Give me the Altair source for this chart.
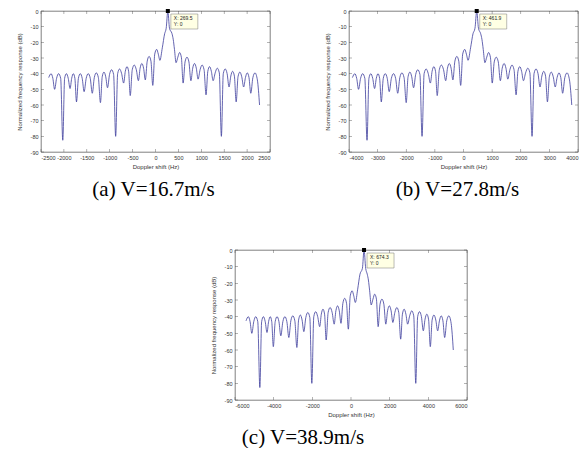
import altair as alt
import pandas as pd

# Normalized frequency response (dB) (same shape in all panels):
# lobe peaks, their flanks and the nulls between them
response_db = [
    -42.5, -40, -43, -50, -43, -40, -43, -82.5, -43, -40,
    -43, -49.5, -43, -40, -43, -58, -43, -40, -43, -51.5,
    -43, -40, -43, -52.5, -42.5, -39.5, -42.5, -58.5, -42, -39,
    -42, -49, -40.5, -37.5, -40.5, -80, -40, -37, -40, -46,
    -38.5, -35.5, -38.5, -54, -37.5, -34.5, -37.5, -44.5, -36.5, -33.5,
    -36.5, -44, -32, -29, -32, -47.5, -27.5, -24.5, -27.5, -31.5,
    -23.5, -14.5, -11, 0, -11, -14.5, -18, -24.5, -33, -29.5,
    -26.5, -29.5, -46, -32.5, -29.5, -32.5, -44.5, -36.5, -33.5, -36.5,
    -43.5, -37.5, -34.5, -37.5, -53.5, -38.5, -35.5, -38.5, -44.5, -39.5,
    -36.5, -39.5, -80, -40, -37, -40, -48.5, -41.5, -38.5, -41.5,
    -58, -42, -39, -42, -48.5, -42.5, -39.5, -42.5, -52.5, -42.5,
    -39.5, -44, -60,
]

# Doppler shift (Hz) of those points, panel (a) V=16.7 m/s
shift_a = [
    -2331.5, -2279.9, -2241.3, -2202.7, -2159.7, -2116.8, -2070.4, -2024.5, -1984.5, -1945.0,
    -1905.1, -1865.6, -1830.0, -1794.8, -1760.0, -1725.2, -1683.6, -1642.3, -1600.3, -1558.6,
    -1513.5, -1468.4, -1424.2, -1380.4, -1336.2, -1292.4, -1247.3, -1202.2, -1163.6, -1124.9,
    -1086.3, -1047.7, -1003.4, -959.6, -914.6, -869.9, -826.5, -783.6, -739.4, -695.6,
    -659.1, -622.6, -586.9, -551.7, -507.5, -463.7, -418.6, -373.5, -335.8, -298.4,
    -260.2, -222.4, -180.8, -139.5, -99.2, -59.3, -16.7, 25.8, 61.0, 96.2,
    148.6, 199.7, 233.5, 269.5, 305.5, 360.7, 386.4, 414.3, 448.7, 487.3,
    526.0, 564.6, 603.3, 644.9, 687.0, 729.9, 772.9, 812.4, 852.3, 890.9,
    929.6, 973.4, 1017.6, 1060.5, 1103.5, 1142.1, 1180.8, 1219.4, 1258.0, 1303.1,
    1348.2, 1393.3, 1438.4, 1480.0, 1522.1, 1563.8, 1605.8, 1644.5, 1683.1, 1722.2,
    1761.3, 1801.6, 1842.0, 1883.2, 1924.9, 1963.9, 2003.0, 2041.6, 2080.3, 2126.2,
    2172.6, 2224.1, 2271.8,
]

# panel (b) V=27.8 m/s
shift_b = [
    -3881.3, -3795.6, -3731.2, -3666.9, -3595.4, -3523.9, -3446.7, -3370.3, -3303.8, -3238.0,
    -3171.6, -3105.8, -3046.5, -2987.8, -2929.9, -2872.1, -2802.7, -2734.1, -2664.0, -2594.7,
    -2519.7, -2444.6, -2371.0, -2298.1, -2224.4, -2151.5, -2076.5, -2001.4, -1937.1, -1872.8,
    -1808.4, -1744.1, -1670.5, -1597.6, -1522.5, -1448.2, -1376.0, -1304.5, -1230.9, -1158.0,
    -1097.2, -1036.5, -977.1, -918.5, -844.9, -772.0, -696.9, -621.9, -559.0, -496.8,
    -433.2, -370.3, -300.9, -232.3, -165.1, -98.6, -27.9, 42.9, 101.5, 160.1,
    247.3, 332.4, 400.9, 461.9, 522.9, 600.4, 643.3, 689.8, 747.0, 811.3,
    875.6, 940.0, 1004.3, 1073.6, 1143.7, 1215.2, 1286.6, 1352.4, 1418.9, 1483.2,
    1547.5, 1620.4, 1694.1, 1765.5, 1837.0, 1901.4, 1965.7, 2030.0, 2094.4, 2169.4,
    2244.5, 2319.5, 2394.6, 2463.9, 2533.9, 2603.3, 2673.3, 2737.7, 2802.0, 2867.0,
    2932.1, 2999.3, 3066.5, 3135.1, 3204.4, 3269.5, 3334.5, 3398.9, 3463.2, 3539.7,
    3616.9, 3702.6, 3782.0,
]

# panel (c) V=38.9 m/s
shift_c = [
    -5430, -5310, -5220, -5130, -5030, -4930, -4822, -4715, -4622, -4530,
    -4437, -4345, -4262, -4180, -4099, -4018, -3921, -3825, -3727, -3630,
    -3525, -3420, -3317, -3215, -3112, -3010, -2905, -2800, -2710, -2620,
    -2530, -2440, -2337, -2235, -2130, -2026, -1925, -1825, -1722, -1620,
    -1535, -1450, -1367, -1285, -1182, -1080, -975, -870, -782, -695,
    -606, -518, -421, -325, -231, -138, -39, 60, 142, 224,
    346, 465, 590, 674.3, 760, 840, 900, 965, 1045, 1135,
    1225, 1315, 1405, 1502, 1600, 1700, 1800, 1892, 1985, 2075,
    2165, 2267, 2370, 2470, 2570, 2660, 2750, 2840, 2930, 3035,
    3140, 3245, 3350, 3447, 3545, 3642, 3740, 3830, 3920, 4011,
    4102, 4196, 4290, 4386, 4483, 4574, 4665, 4755, 4845, 4952,
    5060, 5180, 5291,
]

peaks = [269.5, 461.9, 674.3]
tip_labels = ["X: 269.5\nY: 0", "X: 461.9\nY: 0", "X: 674.3\nY: 0"]
ticks_a = [-2500, -2000, -1500, -1000, -500, 0, 500, 1000, 1500, 2000, 2500]
ticks_b = [-4000, -3000, -2000, -1000, 0, 1000, 2000, 3000, 4000]
ticks_c = [-6000, -4000, -2000, 0, 2000, 4000, 6000]
ticks_db = [0, -10, -20, -30, -40, -50, -60, -70, -80, -90]
captions = ["(a) V=16.7m/s", "(b) V=27.8m/s", "(c) V=38.9m/s"]

LINE = "#3c3c9c"
AXC = "#4a4a4a"
SANS = "Liberation Sans"


def panel(xs, peak, tip, ticks, caption, w, h, cap_dx=0):
    xmin, xmax = ticks[0], ticks[-1]
    xsc = alt.Scale(domain=[xmin, xmax], nice=False, zero=False)
    ysc = alt.Scale(domain=[-90, 0], nice=False, zero=False)
    xax = alt.Axis(values=ticks, title="Doppler shift (Hz)",
                   labelExpr="'' + datum.value")
    yax = alt.Axis(values=ticks_db, title="Normalized frequency response (dB)",
                   labelExpr="'' + datum.value")
    df = pd.DataFrame({"shift": xs, "db": response_db})
    line = alt.Chart(df).mark_line(
        interpolate="monotone", color=LINE, strokeWidth=0.8, clip=True
    ).encode(
        x=alt.X("shift:Q", scale=xsc, axis=xax),
        y=alt.Y("db:Q", scale=ysc, axis=yax),
    )
    xt = pd.DataFrame({"t": ticks})
    yt = pd.DataFrame({"t": ticks_db})
    tk = dict(thickness=0.6, color=AXC, size=3)
    bottom = alt.Chart(xt).mark_tick(orient="vertical", yOffset=-1.5, **tk).encode(
        x=alt.X("t:Q", scale=xsc, axis=xax),
        y=alt.Y(datum=-90, type="quantitative", scale=ysc, axis=yax))
    top = alt.Chart(xt).mark_tick(orient="vertical", yOffset=1.5, **tk).encode(
        x=alt.X("t:Q", scale=xsc, axis=xax),
        y=alt.Y(datum=0, type="quantitative", scale=ysc, axis=yax))
    left = alt.Chart(yt).mark_tick(orient="horizontal", xOffset=1.5, **tk).encode(
        y=alt.Y("t:Q", scale=ysc, axis=yax),
        x=alt.X(datum=xmin, type="quantitative", scale=xsc, axis=xax))
    right = alt.Chart(yt).mark_tick(orient="horizontal", xOffset=-1.5, **tk).encode(
        y=alt.Y("t:Q", scale=ysc, axis=yax),
        x=alt.X(datum=xmax, type="quantitative", scale=xsc, axis=xax))

    tdf = pd.DataFrame({"shift": [peak], "db": [0], "label": [tip]})
    tb = alt.Chart(tdf)
    box = tb.mark_rect(fill="#ffffe4", stroke="#777", strokeWidth=0.5,
                       xOffset=3, x2Offset=30, yOffset=3, y2Offset=18).encode(
        x=alt.X("shift:Q", scale=xsc, axis=xax), x2="shift:Q",
        y=alt.Y("db:Q", scale=ysc, axis=yax), y2="db:Q")
    txt = tb.mark_text(align="left", baseline="top", dx=6, dy=5, fontSize=5,
                       lineBreak="\n", lineHeight=6, font=SANS, color="#222").encode(
        x=alt.X("shift:Q", scale=xsc, axis=xax),
        y=alt.Y("db:Q", scale=ysc, axis=yax), text="label:N")
    mk = tb.mark_square(size=16, color="black", opacity=1, filled=True).encode(
        x=alt.X("shift:Q", scale=xsc, axis=xax),
        y=alt.Y("db:Q", scale=ysc, axis=yax))

    return alt.layer(line, bottom, top, left, right, box, txt, mk).properties(
        width=w, height=h,
        title=alt.TitleParams(caption, orient="bottom", anchor="middle",
                              font="Liberation Serif", fontSize=21,
                              fontWeight="normal", color="black", offset=9,
                              dx=cap_dx),
    )


a = panel(shift_a, peaks[0], tip_labels[0], ticks_a, captions[0], 229, 141, cap_dx=-2)
b = panel(shift_b, peaks[1], tip_labels[1], ticks_b, captions[1], 229, 141, cap_dx=-6)
c = panel(shift_c, peaks[2], tip_labels[2], ticks_c, captions[2], 232, 150, cap_dx=-48)

spacer = alt.Chart(pd.DataFrame({"v": [0]})).mark_point(opacity=0).properties(
    width=168, height=10, view=alt.ViewBackground(strokeOpacity=0, strokeWidth=0))

row1 = alt.hconcat(a, b, spacing=52)
row2 = alt.hconcat(spacer, c, spacing=0)

chart = alt.vconcat(row1, row2, spacing=47).properties(
    padding={"left": 7, "top": 0, "right": 0, "bottom": 0}
).configure_view(stroke=AXC, strokeWidth=0.7).configure_axis(
    ticks=False, domain=False, grid=False,
    labelFont=SANS, labelFontSize=5.5, labelColor="#333", labelPadding=3,
    titleFont=SANS, titleFontSize=6, titleFontWeight="normal", titleColor="#333",
    titlePadding=3,
).configure_axisY(titlePadding=8).configure_concat(spacing=0)

chart.save("out.html", embed_options={"renderer": "svg", "actions": False})
